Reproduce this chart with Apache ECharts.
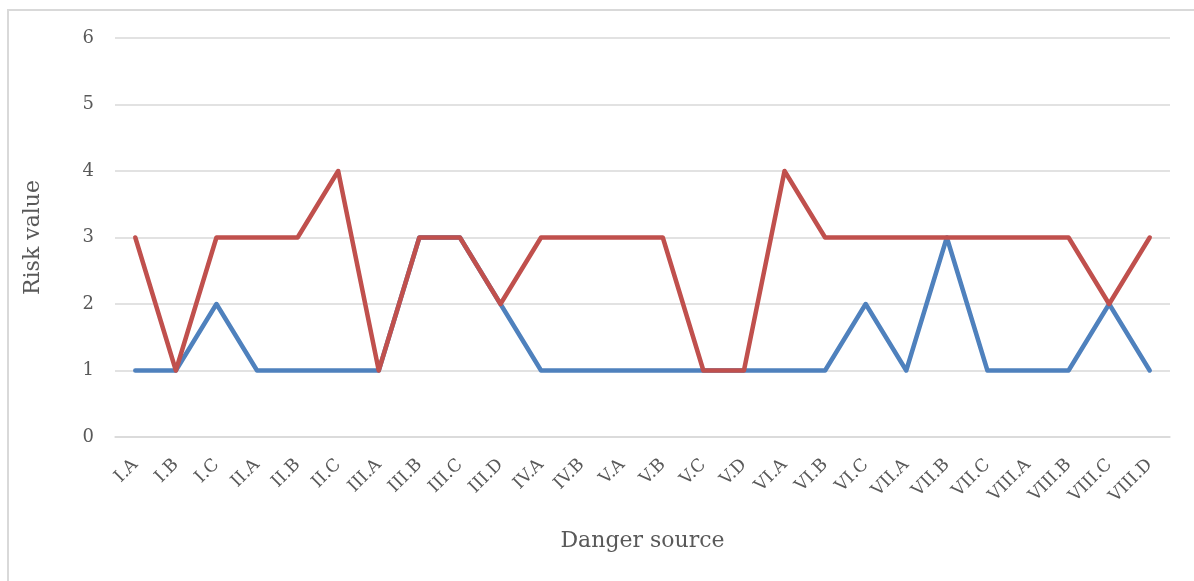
<!DOCTYPE html>
<html>
<head>
<meta charset="utf-8">
<script src="https://cdn.jsdelivr.net/npm/echarts@6/dist/echarts.min.js"></script>
<style>
  html, body { margin: 0; padding: 0; background: #ffffff; }
  #frame { position: absolute; left: 7px; top: 9px; width: 1187px; height: 572px;
           border-top: 2px solid #d9d9d9; border-left: 2px solid #d9d9d9; box-sizing: border-box; }
  #chart { position: absolute; left: 0; top: 0; width: 1194px; height: 581px; }
</style>
</head>
<body>
<div id="frame"></div>
<div id="chart"></div>
<script>
const categories = ['I.A', 'I.B', 'I.C', 'II.A', 'II.B', 'II.C', 'III.A', 'III.B', 'III.C', 'III.D',
  'IV.A', 'IV.B', 'V.A', 'V.B', 'V.C', 'V.D', 'VI.A', 'VI.B', 'VI.C', 'VII.A', 'VII.B', 'VII.C',
  'VIII.A', 'VIII.B', 'VIII.C', 'VIII.D'];
const blueValues = [1, 1, 2, 1, 1, 1, 1, 3, 3, 2, 1, 1, 1, 1, 1, 1, 1, 1, 2, 1, 3, 1, 1, 1, 2, 1];
const redValues = [3, 1, 3, 3, 3, 4, 1, 3, 3, 2, 3, 3, 3, 3, 1, 1, 4, 3, 3, 3, 3, 3, 3, 3, 2, 3];
const yTicks = [0, 1, 2, 3, 4, 5, 6];

const font = '"DejaVu Serif", "Liberation Serif", serif';
const chart = echarts.init(document.getElementById('chart'), null, { renderer: 'canvas' });
chart.setOption({
  animation: false,
  backgroundColor: 'transparent',
  grid: { left: 115, right: 24, top: 38, bottom: 144, containLabel: false },
  xAxis: {
    type: 'category',
    data: categories,
    boundaryGap: true,
    name: 'Danger source',
    nameLocation: 'middle',
    nameGap: 93,
    nameTextStyle: { fontFamily: font, fontSize: 22, color: '#595959' },
    axisLine: { show: true, lineStyle: { color: '#d9d9d9', width: 1.5 } },
    axisTick: { show: false },
    axisLabel: { rotate: 45, interval: 0, fontFamily: font, fontSize: 17.5, color: '#595959', margin: 25 }
  },
  yAxis: {
    type: 'value',
    min: yTicks[0],
    max: yTicks[yTicks.length - 1],
    interval: 1,
    name: 'Risk value',
    nameLocation: 'middle',
    nameGap: 71,
    nameTextStyle: { fontFamily: font, fontSize: 22, color: '#595959' },
    axisLine: { show: false },
    axisTick: { show: false },
    axisLabel: { fontFamily: font, fontSize: 18, color: '#595959', margin: 21 },
    splitLine: { lineStyle: { color: '#d9d9d9', width: 1.5 } }
  },
  series: [
    {
      type: 'line',
      data: blueValues,
      symbol: 'none',
      lineStyle: { color: '#4f81bd', width: 4.5, cap: 'round', join: 'round' },
      itemStyle: { color: '#4f81bd' },
      z: 2
    },
    {
      type: 'line',
      data: redValues,
      symbol: 'none',
      lineStyle: { color: '#c0504d', width: 4.5, cap: 'round', join: 'round' },
      itemStyle: { color: '#c0504d' },
      z: 3
    }
  ]
});
</script>
</body>
</html>
